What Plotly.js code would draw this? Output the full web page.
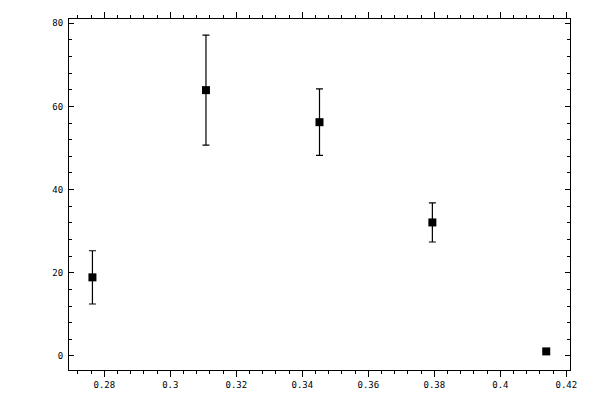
<!DOCTYPE html>
<html>
<head>
<meta charset="utf-8">
<script src="https://cdn.plot.ly/plotly-3.0.1.min.js"></script>
<style>
  html, body { margin: 0; padding: 0; background: #fff; }
  #chart { width: 600px; height: 400px; }
</style>
</head>
<body>
<div id="chart"></div>
<script>
// values
const xValues = [0.2764, 0.3108, 0.3452, 0.3794, 0.4139];
const yValues = [18.9, 63.9, 56.2, 32.1, 1.1];
const yErrors = [6.4, 13.2, 8.0, 4.7, 0];

const trace = {
    x: xValues,
    y: yValues,
    type: 'scatter',
    mode: 'markers',
    marker: { symbol: 'square', size: 8, color: '#000' },
    error_y: {
        type: 'data',
        array: yErrors,
        visible: true,
        color: '#000',
        thickness: 1.2,
        width: 3.5
    },
    showlegend: false
};

const tickFont = { family: 'DejaVu Sans Mono', size: 9, color: '#000' };

const layout = {
    width: 600,
    height: 400,
    margin: { l: 69, r: 30, t: 19, b: 30 },
    paper_bgcolor: '#fff',
    plot_bgcolor: '#fff',
    xaxis: {
        range: [0.2693, 0.4211],
        tick0: 0.28,
        dtick: 0.02,
        ticks: 'outside',
        ticklen: 6,
        tickwidth: 1,
        tickcolor: '#000',
        minor: { dtick: 0.004, ticks: 'outside', ticklen: 3, tickcolor: '#000', tickwidth: 1 },
        showline: true,
        linecolor: '#000',
        linewidth: 1,
        mirror: 'ticks',
        showgrid: false,
        zeroline: false,
        tickfont: tickFont
    },
    yaxis: {
        range: [-3.37, 81.0],
        tick0: 0,
        dtick: 20,
        ticks: 'inside',
        ticklen: 5,
        tickwidth: 1,
        tickcolor: '#000',
        minor: { dtick: 4, ticks: 'inside', ticklen: 3, tickcolor: '#000', tickwidth: 1 },
        showline: true,
        linecolor: '#000',
        linewidth: 1,
        mirror: 'ticks',
        showgrid: false,
        zeroline: false,
        ticklabelstandoff: 3,
        tickfont: tickFont
    }
};

Plotly.newPlot('chart', [trace], layout, { staticPlot: true });
</script>
</body>
</html>
